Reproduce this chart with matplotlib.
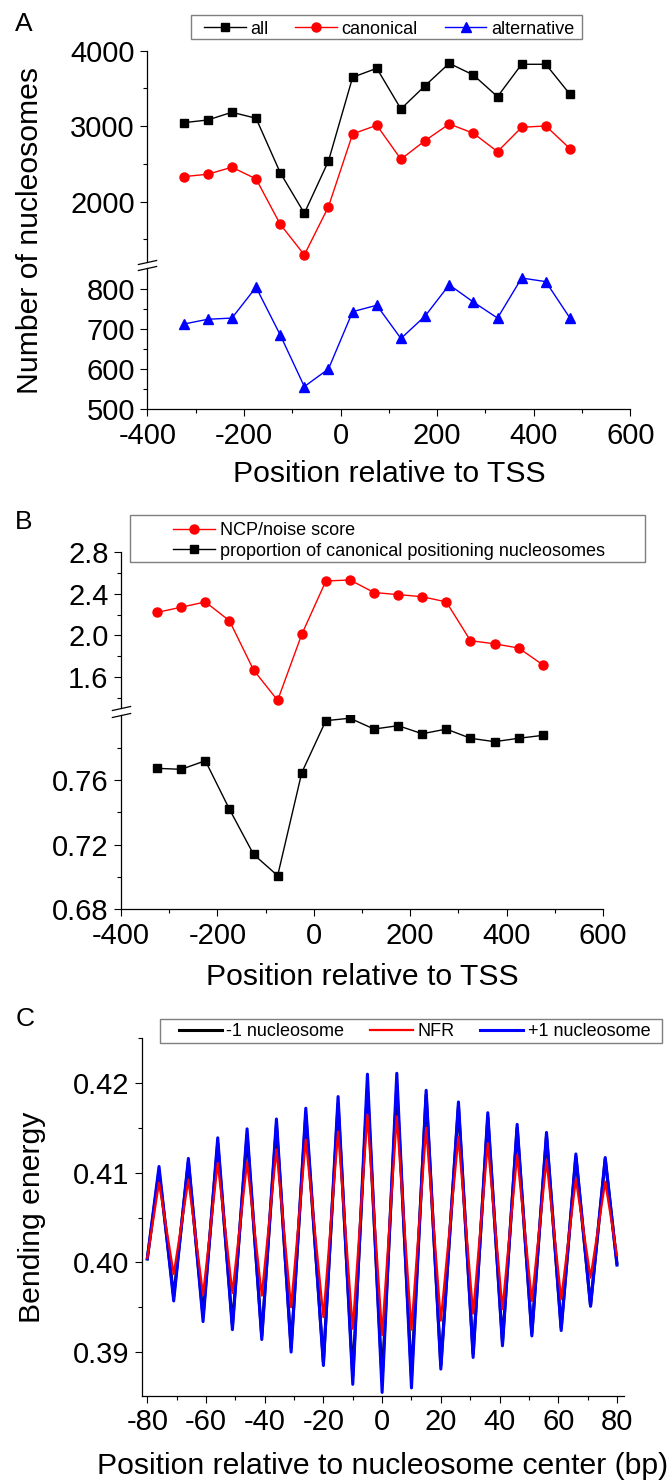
import matplotlib
matplotlib.use("Agg")
import matplotlib.pyplot as plt
from matplotlib.patches import Rectangle
from matplotlib.ticker import MultipleLocator, FixedLocator, FormatStrFormatter

plt.rcParams['font.family'] = ['Liberation Sans', 'DejaVu Sans']
plt.rcParams['axes.unicode_minus'] = False

# ---- panel A: nucleosome counts around the TSS
pos_tss = [-325, -275, -225, -175, -125, -75, -25, 25, 75, 125, 175, 225, 275, 325, 375, 425, 475]
all_counts = [3046, 3082, 3184, 3105, 2384, 1846, 2539, 3648, 3767, 3228, 3536, 3833, 3678, 3391, 3820, 3820, 3423]
canonical_counts = [2331, 2363, 2456, 2301, 1701, 1294, 1934, 2897, 3012, 2562, 2808, 3029, 2906, 2662, 2985, 3003, 2702]
alternative_counts = [712, 724, 727, 804, 685, 556, 600, 743, 759, 676, 732, 810, 767, 727, 827, 818, 727]

# ---- panel B
ncp_noise = [2.22, 2.27, 2.32, 2.14, 1.67, 1.38, 2.01, 2.52, 2.53, 2.41, 2.39, 2.37, 2.32, 1.95, 1.92, 1.88, 1.72]
canonical_prop = [0.7672, 0.7666, 0.7719, 0.7419, 0.7140, 0.7008, 0.7645, 0.7967, 0.7982, 0.7915,
                  0.7936, 0.7886, 0.7915, 0.7858, 0.7837, 0.7858, 0.7876]

# ---- panel C: bending energy, read at the peaks and troughs
edge_pos = [-80, 80]
peak_pos = [-76, -66, -56, -46, -36, -26, -15, -5, 5, 15, 26, 36, 46, 56, 66, 76]
trough_pos = [-71, -61, -51, -41, -31, -20, -10, 0, 10, 20, 31, 41, 51, 61, 71]

minus1_edges = [0.4004, 0.3999]
minus1_peaks = [0.4102, 0.4112, 0.4133, 0.4142, 0.4153, 0.4165, 0.4177, 0.4195,
                0.4197, 0.4187, 0.4174, 0.4162, 0.4150, 0.4141, 0.4118, 0.4115]
minus1_troughs = [0.3962, 0.3940, 0.3930, 0.3918, 0.3905, 0.3889, 0.3873, 0.3868,
                  0.3872, 0.3885, 0.3898, 0.3911, 0.3921, 0.3927, 0.3952]

nfr_edges = [0.4005, 0.4008]
nfr_peaks = [0.4089, 0.4092, 0.4111, 0.4112, 0.4126, 0.4137, 0.4146, 0.4165,
             0.4163, 0.4150, 0.4140, 0.4133, 0.4120, 0.4114, 0.4093, 0.4090]
nfr_troughs = [0.3987, 0.3964, 0.3966, 0.3963, 0.3950, 0.3939, 0.3926, 0.3919,
               0.3925, 0.3935, 0.3943, 0.3948, 0.3957, 0.3959, 0.3983]

plus1_edges = [0.4004, 0.3997]
plus1_peaks = [0.4107, 0.4116, 0.4139, 0.4149, 0.4160, 0.4172, 0.4185, 0.4210,
               0.4211, 0.4192, 0.4179, 0.4167, 0.4154, 0.4145, 0.4121, 0.4117]
plus1_troughs = [0.3957, 0.3934, 0.3925, 0.3914, 0.3900, 0.3885, 0.3864, 0.3855,
                 0.3860, 0.3881, 0.3894, 0.3907, 0.3918, 0.3924, 0.3951]


def zigzag(edges, peaks, troughs):
    # order the read extremes along x: start, peak, trough, peak, ..., peak, end
    xs = [edge_pos[0]]
    ys = [edges[0]]
    for i in range(len(peak_pos)):
        xs.append(peak_pos[i])
        ys.append(peaks[i])
        if i < len(trough_pos):
            xs.append(trough_pos[i])
            ys.append(troughs[i])
    xs.append(edge_pos[1])
    ys.append(edges[1])
    return xs, ys


W, H = 668, 1481
fig = plt.figure(figsize=(W / 100, H / 100), dpi=100)


def axes_px(left, top, right, bottom):
    return fig.add_axes([left / W, 1 - bottom / H, (right - left) / W, (bottom - top) / H])


def style(ax, show_x=True):
    ax.spines['top'].set_visible(False)
    ax.spines['right'].set_visible(False)
    for s in ['left', 'bottom']:
        ax.spines[s].set_linewidth(0.9)
    ax.tick_params(which='major', direction='out', length=5, width=0.8, labelsize=21, pad=4)
    ax.tick_params(which='minor', direction='out', length=3, width=0.8)
    if not show_x:
        ax.spines['bottom'].set_visible(False)
        ax.tick_params(axis='x', which='both', bottom=False, labelbottom=False)


def break_mark(ax, y):
    ax.plot([0], [y], transform=ax.transAxes, marker=[(-1, -0.22), (1, 0.22)], markersize=14,
            linestyle='none', color='k', mec='k', mew=0.9, clip_on=False)


def frame_px(left, top, right, bottom):
    fig.add_artist(Rectangle((left / W, 1 - bottom / H), (right - left) / W, (bottom - top) / H,
                             transform=fig.transFigure, fill=False, ec='#7f7f7f', lw=1))


# ---------------- panel A
a_top = axes_px(147.4, 50.7, 630.3, 262)
a_bot = axes_px(147.4, 268, 630.3, 409)

l_all, = a_top.plot(pos_tss, all_counts, color='k', lw=1, marker='s', ms=6, label='all')
l_can, = a_top.plot(pos_tss, canonical_counts, color='#ff0000', lw=1, marker='o', ms=6.5, label='canonical')
l_alt, = a_bot.plot(pos_tss, alternative_counts, color='#0000ff', lw=1, marker='^', ms=7.5, label='alternative')

for ax in (a_top, a_bot):
    ax.set_xlim(-400, 600)
    ax.xaxis.set_major_locator(MultipleLocator(200))
    ax.xaxis.set_minor_locator(MultipleLocator(100))
style(a_top, show_x=False)
style(a_bot)
a_top.set_ylim(1200, 4000)
a_top.yaxis.set_major_locator(FixedLocator([2000, 3000, 4000]))
a_top.yaxis.set_minor_locator(FixedLocator([1500, 2500, 3500]))
a_bot.set_ylim(500, 852)
a_bot.yaxis.set_major_locator(FixedLocator([500, 600, 700, 800]))
a_bot.yaxis.set_minor_locator(FixedLocator([550, 650, 750]))
break_mark(a_top, 0)
break_mark(a_bot, 1)

fig.legend([l_all, l_can, l_alt], ['all', 'canonical', 'alternative'], loc='center left',
           bbox_to_anchor=(204 / W, 1 - 29.3 / H), ncol=3, frameon=False, fontsize=13,
           handlelength=2.3, handletextpad=0.25, columnspacing=1.5, borderpad=0, borderaxespad=0)
frame_px(191, 15, 582, 39.3)

# ---------------- panel B
b_top = axes_px(121, 551.7, 603, 708.3)
b_bot = axes_px(121, 715, 603, 909.3)

l_ncp, = b_top.plot(pos_tss, ncp_noise, color='#ff0000', lw=1, marker='o', ms=6.5)
l_prop, = b_bot.plot(pos_tss, canonical_prop, color='k', lw=1, marker='s', ms=6)

for ax in (b_top, b_bot):
    ax.set_xlim(-400, 600)
    ax.xaxis.set_major_locator(MultipleLocator(200))
    ax.xaxis.set_minor_locator(MultipleLocator(100))
style(b_top, show_x=False)
style(b_bot)
b_top.set_ylim(1.304, 2.8)
b_top.yaxis.set_major_locator(FixedLocator([1.6, 2.0, 2.4, 2.8]))
b_top.yaxis.set_minor_locator(FixedLocator([1.4, 1.8, 2.2, 2.6]))
b_top.yaxis.set_major_formatter(FormatStrFormatter('%.1f'))
b_bot.set_ylim(0.68, 0.8002)
b_bot.yaxis.set_major_locator(FixedLocator([0.68, 0.72, 0.76]))
b_bot.yaxis.set_minor_locator(FixedLocator([0.70, 0.74, 0.78]))
b_bot.yaxis.set_major_formatter(FormatStrFormatter('%.2f'))
break_mark(b_top, 0)
break_mark(b_bot, 1)

fig.legend([l_ncp, l_prop], ['NCP/noise score', 'proportion of canonical positioning nucleosomes'],
           loc='center left', bbox_to_anchor=(173 / W, 1 - 540.7 / H), ncol=1, frameon=False,
           fontsize=13, handlelength=2.3, handletextpad=0.3, labelspacing=0.2,
           borderpad=0, borderaxespad=0)
frame_px(130.3, 515, 645.3, 561.7)

# ---------------- panel C
c_ax = axes_px(141.7, 1038.3, 624, 1396)
x1, y1 = zigzag(minus1_edges, minus1_peaks, minus1_troughs)
x2, y2 = zigzag(nfr_edges, nfr_peaks, nfr_troughs)
x3, y3 = zigzag(plus1_edges, plus1_peaks, plus1_troughs)
l_m1, = c_ax.plot(x1, y1, color='k', lw=2.2)
l_p1, = c_ax.plot(x3, y3, color='#0000ff', lw=2.2)
l_nfr, = c_ax.plot(x2, y2, color='#ff0000', lw=1.6)
c_ax.set_xlim(-81.9, 82.4)
c_ax.set_ylim(0.3851, 0.425)
c_ax.xaxis.set_major_locator(MultipleLocator(20))
c_ax.xaxis.set_minor_locator(MultipleLocator(10))
c_ax.yaxis.set_major_locator(FixedLocator([0.39, 0.40, 0.41, 0.42]))
c_ax.yaxis.set_minor_locator(FixedLocator([0.395, 0.405, 0.415, 0.425]))
c_ax.yaxis.set_major_formatter(FormatStrFormatter('%.2f'))
style(c_ax)

fig.legend([l_m1, l_nfr, l_p1], ['-1 nucleosome', 'NFR', '+1 nucleosome'], loc='center left',
           bbox_to_anchor=(178.6 / W, 1 - 1032 / H), ncol=3, frameon=False, fontsize=13,
           handlelength=2.4, handletextpad=0.25, columnspacing=1.4, borderpad=0, borderaxespad=0)
frame_px(160, 1019.3, 662, 1043.3)

# ---------------- labels
fig.text(24 / W, 1 - 24 / H, 'A', fontsize=19, ha='center', va='center')
fig.text(23.5 / W, 1 - 522 / H, 'B', fontsize=19, ha='center', va='center')
fig.text(25 / W, 1 - 1019 / H, 'C', fontsize=19, ha='center', va='center')

fig.text(30 / W, 1 - 230 / H, 'Number of nucleosomes', fontsize=21.7, rotation=90, ha='center', va='center')
fig.text(389 / W, 1 - 474 / H, 'Position relative to TSS', fontsize=21.7, ha='center', va='center')
fig.text(362 / W, 1 - 977 / H, 'Position relative to TSS', fontsize=21.7, ha='center', va='center')
fig.text(32 / W, 1 - 1217 / H, 'Bending energy', fontsize=21.7, rotation=90, ha='center', va='center')
fig.text(383 / W, 1 - 1466 / H, 'Position relative to nucleosome center (bp)', fontsize=21.7,
         ha='center', va='center')

fig.savefig('out.png', dpi=100)
